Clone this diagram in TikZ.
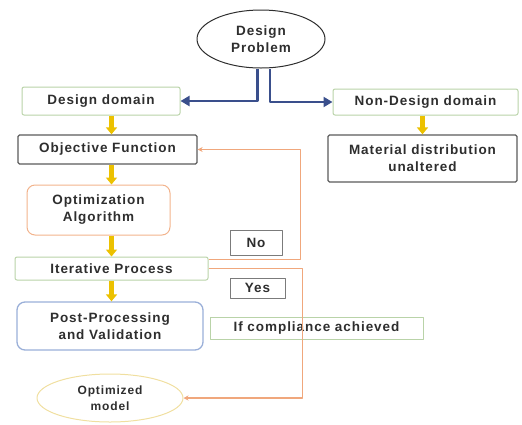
\documentclass[tikz,border=0pt]{standalone}
\usepackage{fontspec}
\setmainfont{Liberation Sans}[LetterSpace=7]
\usepackage{xcolor}
\usepackage{tikz}
\usetikzlibrary{shapes.geometric,arrows.meta}
\definecolor{ink}{HTML}{2E2E2E}
\definecolor{grn}{HTML}{B9D3A8}
\definecolor{dark}{HTML}{5A5A5A}
\definecolor{org}{HTML}{F2B38C}
\definecolor{blu}{HTML}{9AAFD8}
\definecolor{ylw}{HTML}{F0DFA0}
\definecolor{navy}{HTML}{3A4F8C}
\definecolor{gold}{HTML}{ECC100}
\definecolor{fbk}{HTML}{F0A77C}
\tikzset{
  txt/.style={text=ink, font=\fontsize{13.5}{17}\selectfont\bfseries, align=center, inner sep=0pt},
  gbox/.style={txt, draw=grn, line width=1pt, rounded corners=2pt},
  dbox/.style={txt, draw=dark, line width=1.3pt, rounded corners=1.5pt},
  obox/.style={txt, draw=org, line width=1pt, rounded corners=8pt},
  bbox/.style={txt, draw=blu, line width=1.3pt, rounded corners=8pt},
  tag/.style={txt, draw=dark!80, line width=0.9pt},
  oval/.style={txt, ellipse, line width=1pt},
  split/.style={draw=navy, line width=2.6pt, -{Triangle[length=9pt,width=10pt]}},
  down/.style={draw=gold, line width=5pt, -{Triangle[length=7pt,width=11pt]}},
  loop/.style={draw=fbk, line width=1.2pt, -{Stealth[length=5pt,width=5pt]}}
}
\begin{document}
\begin{tikzpicture}[x=1pt, y=-1pt, line join=round]
  \useasboundingbox (0,0) rectangle (522,424);
  \node[oval, draw=ink, minimum width=128pt, minimum height=58pt] (dp) at (261,39) {Design\\Problem};
  \node[gbox, minimum width=158pt, minimum height=28pt] (dd) at (101,101) {Design domain};
  \node[gbox, minimum width=185pt, minimum height=26pt] (nd) at (425.5,102) {Non-Design domain};
  \node[dbox, minimum width=179pt, minimum height=29pt] (of) at (107.5,149.5) {Objective Function};
  \node[dbox, minimum width=189pt, minimum height=47pt] (md) at (422.5,158.5) {Material distribution\\unaltered};
  \node[obox, minimum width=143pt, minimum height=50pt] (oa) at (98.5,210) {Optimization\\Algorithm};
  \node[gbox, minimum width=193pt, minimum height=23pt] (it) at (111.5,268.5) {Iterative Process};
  \node[bbox, minimum width=186pt, minimum height=48pt] (pp) at (110,326) {Post-Processing\\and Validation};
  \node[oval, draw=ylw, font=\fontsize{12}{16}\selectfont\bfseries, minimum width=146pt, minimum height=48pt] (om) at (110,398) {Optimized\\model};
  \node[tag, minimum width=52pt, minimum height=25pt] (no) at (256,242.5) {No};
  \node[tag, minimum width=55pt, minimum height=20pt] (yes) at (257.5,288) {Yes};
  \node[gbox, rounded corners=0pt, minimum width=213pt, minimum height=22pt] (ca) at (316.5,328) {If compliance achieved};

  \draw[split] ([xshift=-3.5pt]dp.south) |- (dd.east);
  \draw[split] ([xshift=9pt]dp.south) |- (nd.west);
  \draw[down] (dd.south -| it.north) -- (of.north -| it.north);
  \draw[down] (nd.south -| md.north) -- (md.north);
  \draw[down] (of.south -| it.north) -- (oa.north -| it.north);
  \draw[down] (oa.south -| it.north) -- (it.north);
  \draw[down] (it.south) -- (pp.north -| it.south);
  \draw[loop] ([yshift=-3pt]it.north east) -- ++(92,0) |- (of.east);
  \draw[loop] ([yshift=-12pt]it.north east) -- ++(94,0) |- (om.east);
\end{tikzpicture}
\end{document}
